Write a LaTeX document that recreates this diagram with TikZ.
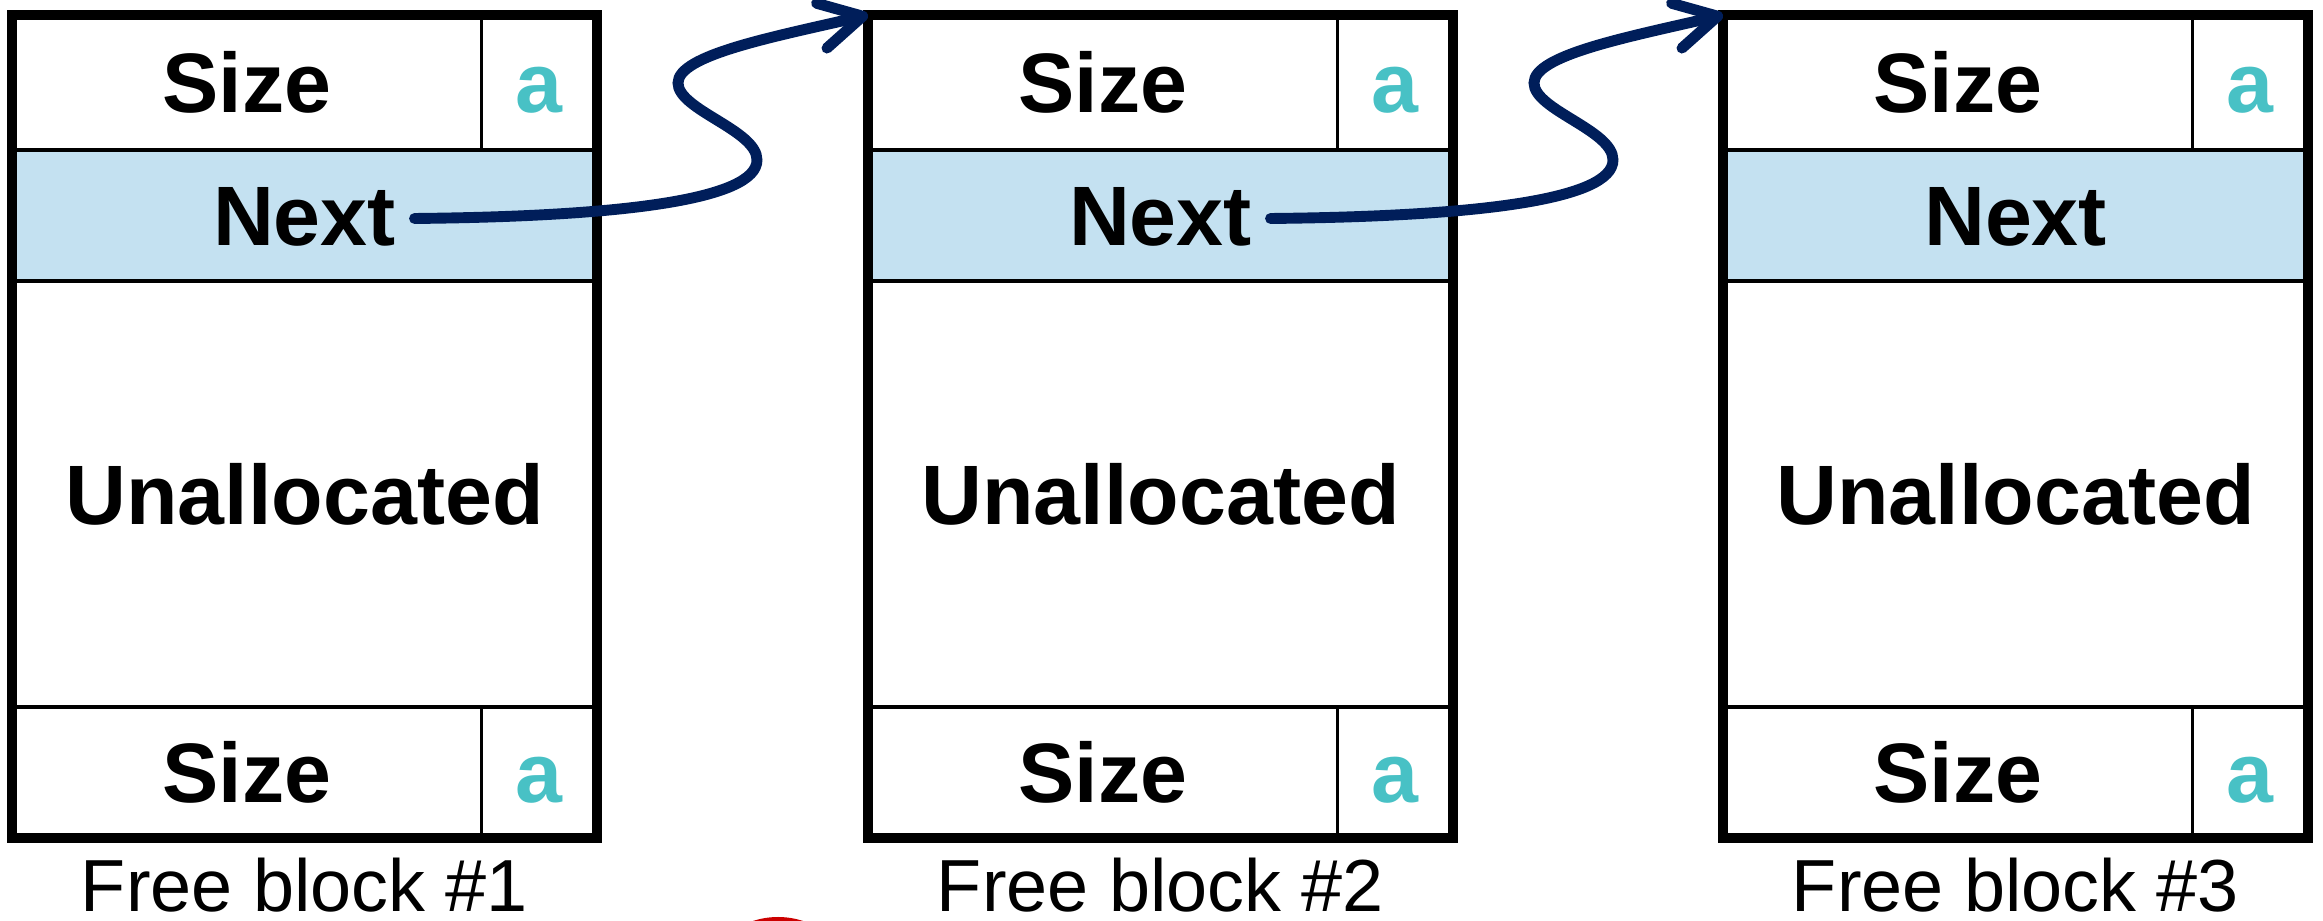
\documentclass[tikz,border=0pt]{standalone}
\usepackage{fontspec}
\setmainfont{Liberation Sans}
\usetikzlibrary{arrows.meta,fit}
\definecolor{TagClr}{RGB}{72,193,197}
\definecolor{NextClr}{RGB}{196,225,241}
\definecolor{LinkClr}{RGB}{0,30,90}
\definecolor{DotClr}{RGB}{204,0,0}

\begin{document}
\begin{tikzpicture}[
  cell/.style={draw=black,line width=0.95pt,inner sep=0pt,outer sep=0pt,anchor=north west,
    minimum height=1.35cm,font=\fontsize{24}{28}\selectfont\bfseries,
    text height=17.2pt,text depth=0pt},
  sizecell/.style={cell,minimum width=4.695cm},
  tagcell/.style={cell,minimum width=1.155cm,text=TagClr},
  nextcell/.style={cell,minimum width=5.85cm,minimum height=1.31cm,fill=NextClr},
  freecell/.style={cell,minimum width=5.85cm,minimum height=4.26cm},
  frame/.style={draw=black,line width=2.7pt,inner sep=0pt,outer sep=0pt},
  caption/.style={anchor=base,inner sep=0pt,font=\fontsize{21}{24}\selectfont},
  link/.style={draw=LinkClr,line width=3.1pt,line cap=round,
    -{Straight Barb[length=4.2mm,width=4.6mm,line cap=round,line join=round]}}]
\useasboundingbox (0,0) rectangle (23.23,9.21);

% block 1
\node[sizecell] (size1) at (0.12,9.06) {Size};
\node[tagcell] (tag1) at (size1.north east) {a};
\node[nextcell] (next1) at (size1.south west) {Next};
\node[freecell] (free1) at (next1.south west) {Unallocated};
\node[sizecell,minimum height=1.31cm] (foot1) at (free1.south west) {Size};
\node[tagcell,minimum height=1.31cm] (ftag1) at (foot1.north east) {a};
\node[frame,fit=(size1)(tag1)(foot1)(ftag1)] (frame1) {};
\node[caption] (cap1) at ([yshift=-0.74cm]frame1.south) {Free block \#1};

% block 2
\node[sizecell] (size2) at (8.68,9.06) {Size};
\node[tagcell] (tag2) at (size2.north east) {a};
\node[nextcell] (next2) at (size2.south west) {Next};
\node[freecell] (free2) at (next2.south west) {Unallocated};
\node[sizecell,minimum height=1.31cm] (foot2) at (free2.south west) {Size};
\node[tagcell,minimum height=1.31cm] (ftag2) at (foot2.north east) {a};
\node[frame,fit=(size2)(tag2)(foot2)(ftag2)] (frame2) {};
\node[caption] (cap2) at ([yshift=-0.74cm]frame2.south) {Free block \#2};

% block 3
\node[sizecell] (size3) at (17.23,9.06) {Size};
\node[tagcell] (tag3) at (size3.north east) {a};
\node[nextcell] (next3) at (size3.south west) {Next};
\node[freecell] (free3) at (next3.south west) {Unallocated};
\node[sizecell,minimum height=1.31cm] (foot3) at (free3.south west) {Size};
\node[tagcell,minimum height=1.31cm] (ftag3) at (foot3.north east) {a};
\node[frame,fit=(size3)(tag3)(foot3)(ftag3)] (frame3) {};
\node[caption] (cap3) at ([yshift=-0.74cm]frame3.south) {Free block \#3};

% next pointers
\coordinate (ptr1) at ([xshift=1.1cm,yshift=-0.03cm]next1.center);
\coordinate (ptr2) at ([xshift=1.1cm,yshift=-0.03cm]next2.center);
\coordinate (turnA1) at ([shift={(1.60,-1.45)}]frame1.north east);
\coordinate (turnB1) at ([shift={(0.81,-0.68)}]frame1.north east);
\coordinate (turnA2) at ([shift={(1.60,-1.45)}]frame2.north east);
\coordinate (turnB2) at ([shift={(0.81,-0.68)}]frame2.north east);

\draw[link] (ptr1) .. controls +(2.05,0.02) and +(0,-0.40) .. (turnA1)
  .. controls +(0,0.30) and +(0,-0.27) .. (turnB1)
  .. controls +(0,0.28) and +(-0.95,-0.22) .. (frame2.north west);
\draw[link] (ptr2) .. controls +(2.05,0.02) and +(0,-0.40) .. (turnA2)
  .. controls +(0,0.30) and +(0,-0.27) .. (turnB2)
  .. controls +(0,0.28) and +(-0.95,-0.22) .. (frame3.north west);

\fill[DotClr] (7.78,-0.76) circle (0.8cm);
\end{tikzpicture}
\end{document}
